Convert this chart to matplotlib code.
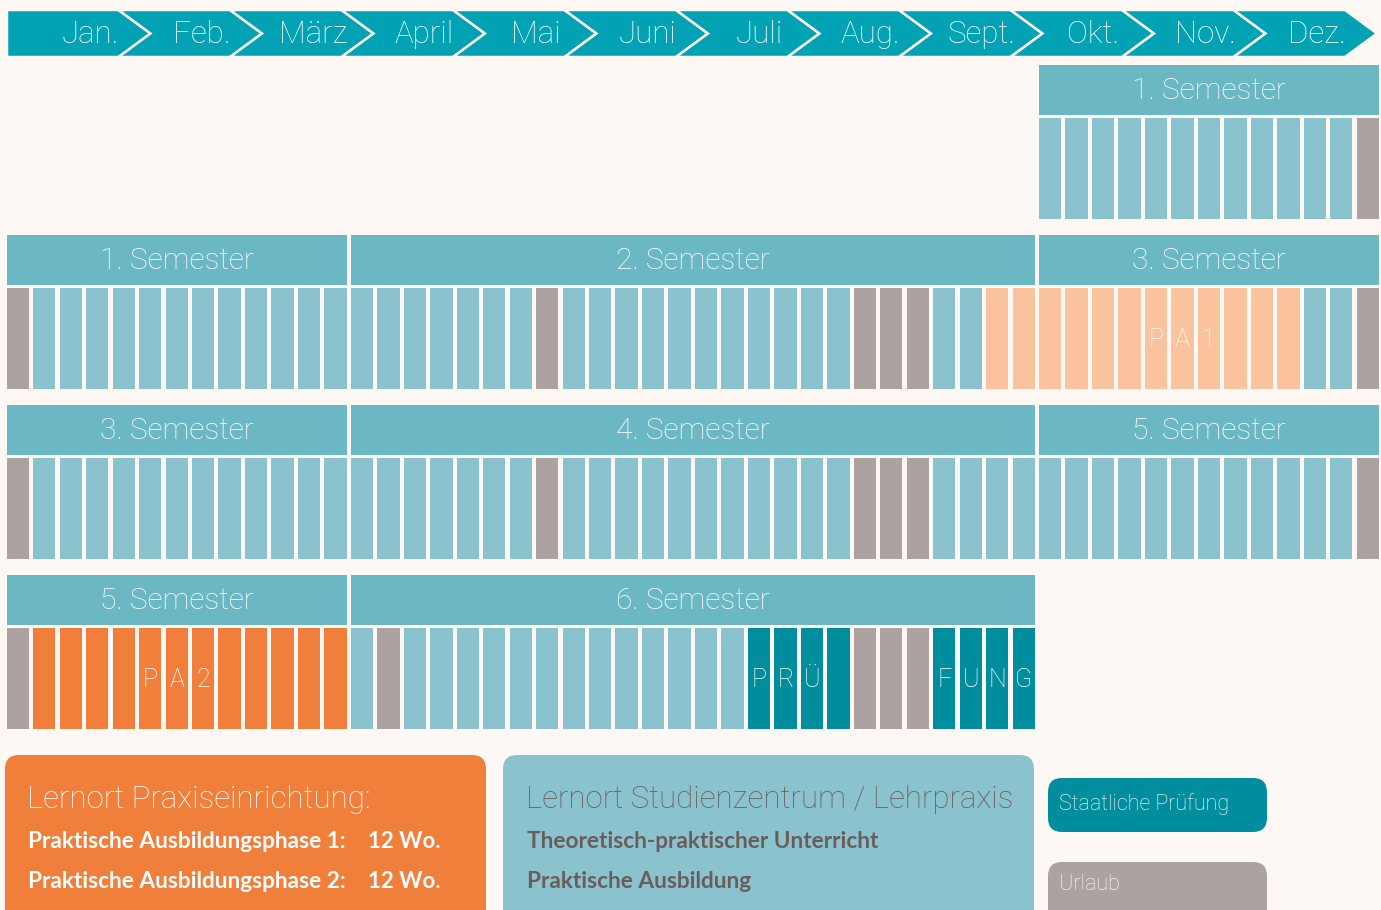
import matplotlib
matplotlib.use("Agg")
import matplotlib.pyplot as plt
from matplotlib.patches import Polygon, FancyBboxPatch

plt.rcParams['font.family'] = ['Lato', 'DejaVu Sans']
LIGHT = ['Roboto', 'DejaVu Sans']

# colours
BG = '#FEF8F4'
MONTH_C = '#00A2B4'
HEAD_C = '#6BB8C4'
KIND_COLORS = {
    'T': '#8AC3CE',   # Theorie / Praxis im Studienzentrum
    'U': '#ACA2A0',   # Urlaub
    'P1': '#FAC39E',  # Praktische Ausbildungsphase 1
    'P2': '#F07F3C',  # Praktische Ausbildungsphase 2
    'S': '#008D9E',   # Staatliche Pruefung
}
TEXT_DARK = '#6B5C5C'

# data
months = ['Jan.', 'Feb.', 'März', 'April', 'Mai', 'Juni', 'Juli', 'Aug.',
          'Sept.', 'Okt.', 'Nov.', 'Dez.']

# week plan per row: (first week, list of week kinds)
row0_start = 39
row0_weeks = ['T'] * 12 + ['U']
row1_start = 0
row1_weeks = (['U'] + ['T'] * 19 + ['U'] + ['T'] * 11 + ['U'] * 3 + ['T'] * 2
              + ['P1'] * 12 + ['T'] * 2 + ['U'])
row2_start = 0
row2_weeks = ['U'] + ['T'] * 19 + ['U'] + ['T'] * 11 + ['U'] * 3 + ['T'] * 16 + ['U']
row3_start = 0
row3_weeks = ['U'] + ['P2'] * 12 + ['T'] + ['U'] + ['T'] * 13 + ['S'] * 4 + ['U'] * 3 + ['S'] * 4

rows = [(row0_start, row0_weeks), (row1_start, row1_weeks),
        (row2_start, row2_weeks), (row3_start, row3_weeks)]

# semesters: (row, first week, end week, label)
semesters = [
    (0, 39, 52, '1. Semester'),
    (1, 0, 13, '1. Semester'), (1, 13, 39, '2. Semester'), (1, 39, 52, '3. Semester'),
    (2, 0, 13, '3. Semester'), (2, 13, 39, '4. Semester'), (2, 39, 52, '5. Semester'),
    (3, 0, 13, '5. Semester'), (3, 13, 39, '6. Semester'),
]

# letters written into the cells: (row, first week, text)
cell_labels = [(1, 43, 'PA1'), (3, 5, 'PA2'), (3, 28, 'PRÜ'), (3, 35, 'FUNG')]

# layout (row units = 170 px, week units = 26.47 px)
cell_w = 0.8425
head_h = 0.294
cell_top = 0.309
cell_h = 0.597

fig = plt.figure(figsize=(13.81, 9.10), dpi=100, facecolor=BG)
ax = fig.add_axes([0, 0, 1, 1])
ax.set_facecolor(BG)
ax.set_xlim(-0.253, 51.92)
ax.set_ylim(4.9706, -0.3824)
ax.axis('off')

# semester header bars
for r, s, e, label in semesters:
    ax.bar(s, head_h, width=(e - s) - (1 - cell_w), bottom=r, align='edge',
           color=HEAD_C, linewidth=0)
    ax.text((s + e - (1 - cell_w)) / 2, r + head_h / 2 + 0.008, label,
            ha='center', va='center', color='white', fontsize=21.5,
            family=LIGHT, fontweight='light')

# week cells
for r, (start, weeks) in enumerate(rows):
    xs = [start + i for i in range(len(weeks))]
    cols = [KIND_COLORS[k] for k in weeks]
    ax.bar(xs, cell_h, width=cell_w, bottom=r + cell_top, align='edge',
           color=cols, linewidth=0)

for r, s, txt in cell_labels:
    for i, ch in enumerate(txt):
        ax.text(s + i + cell_w / 2, r + cell_top + cell_h / 2 + 0.01, ch,
                ha='center', va='center', color='white', fontsize=18,
                family=LIGHT, fontweight='light')

# overlay in pixel units for the month bar and the legend boxes
ov = fig.add_axes([0, 0, 1, 1])
ov.set_xlim(0, 1381)
ov.set_ylim(910, 0)
ov.axis('off')
ov.patch.set_alpha(0)

mw, depth = 111.5, 32
top, bot = 10, 57
mid = (top + bot) / 2
for m, name in enumerate(months):
    x0 = 7 + m * mw
    x1 = x0 + mw
    if m == 0:
        left = [(x0, bot), (x0, top)]
    else:
        left = [(x0, bot), (x0 + depth, mid), (x0, top)]
    pts = left + [(x1, top), (x1 + depth, mid), (x1, bot)]
    ov.add_patch(Polygon(pts, closed=True, facecolor=MONTH_C,
                         edgecolor=BG, linewidth=1.8))
    ov.text(x0 + 83, mid + 1, name, ha='center', va='center', color='white',
            fontsize=22.5, family=LIGHT, fontweight='light')

def box(x, y, w, h, color):
    ov.add_patch(FancyBboxPatch((x, y), w, h,
                                boxstyle='round,pad=0,rounding_size=14',
                                facecolor=color, edgecolor='none'))

box(5, 755, 481, 180, KIND_COLORS['P2'])
box(503, 755, 531, 180, KIND_COLORS['T'])
box(1048, 778, 219, 54, KIND_COLORS['S'])
box(1048, 862, 219, 80, KIND_COLORS['U'])

ov.text(27, 799, 'Lernort Praxiseinrichtung:', ha='left', va='center',
        color='white', fontsize=22.5, family=LIGHT, fontweight='light')
ov.text(28, 841, 'Praktische Ausbildungsphase 1:', ha='left', va='center',
        color='white', fontsize=16.3, fontweight='bold')
ov.text(368, 841, '12 Wo.', ha='left', va='center',
        color='white', fontsize=16, fontweight='bold')
ov.text(28, 881, 'Praktische Ausbildungsphase 2:', ha='left', va='center',
        color='white', fontsize=16.3, fontweight='bold')
ov.text(368, 881, '12 Wo.', ha='left', va='center',
        color='white', fontsize=16, fontweight='bold')

ov.text(526, 799, 'Lernort Studienzentrum / Lehrpraxis', ha='left', va='center',
        color=TEXT_DARK, fontsize=22.5, family=LIGHT, fontweight='light')
ov.text(527, 841, 'Theoretisch-praktischer Unterricht', ha='left', va='center',
        color=TEXT_DARK, fontsize=16.3, fontweight='bold')
ov.text(527, 881, 'Praktische Ausbildung', ha='left', va='center',
        color=TEXT_DARK, fontsize=16.3, fontweight='bold')

ov.text(1059, 804, 'Staatliche Prüfung', ha='left', va='center',
        color='white', fontsize=15.5, family=LIGHT, fontweight='light')
ov.text(1059, 884, 'Urlaub', ha='left', va='center',
        color='white', fontsize=15.5, family=LIGHT, fontweight='light')

fig.savefig('out.png', dpi=100, facecolor=BG)
